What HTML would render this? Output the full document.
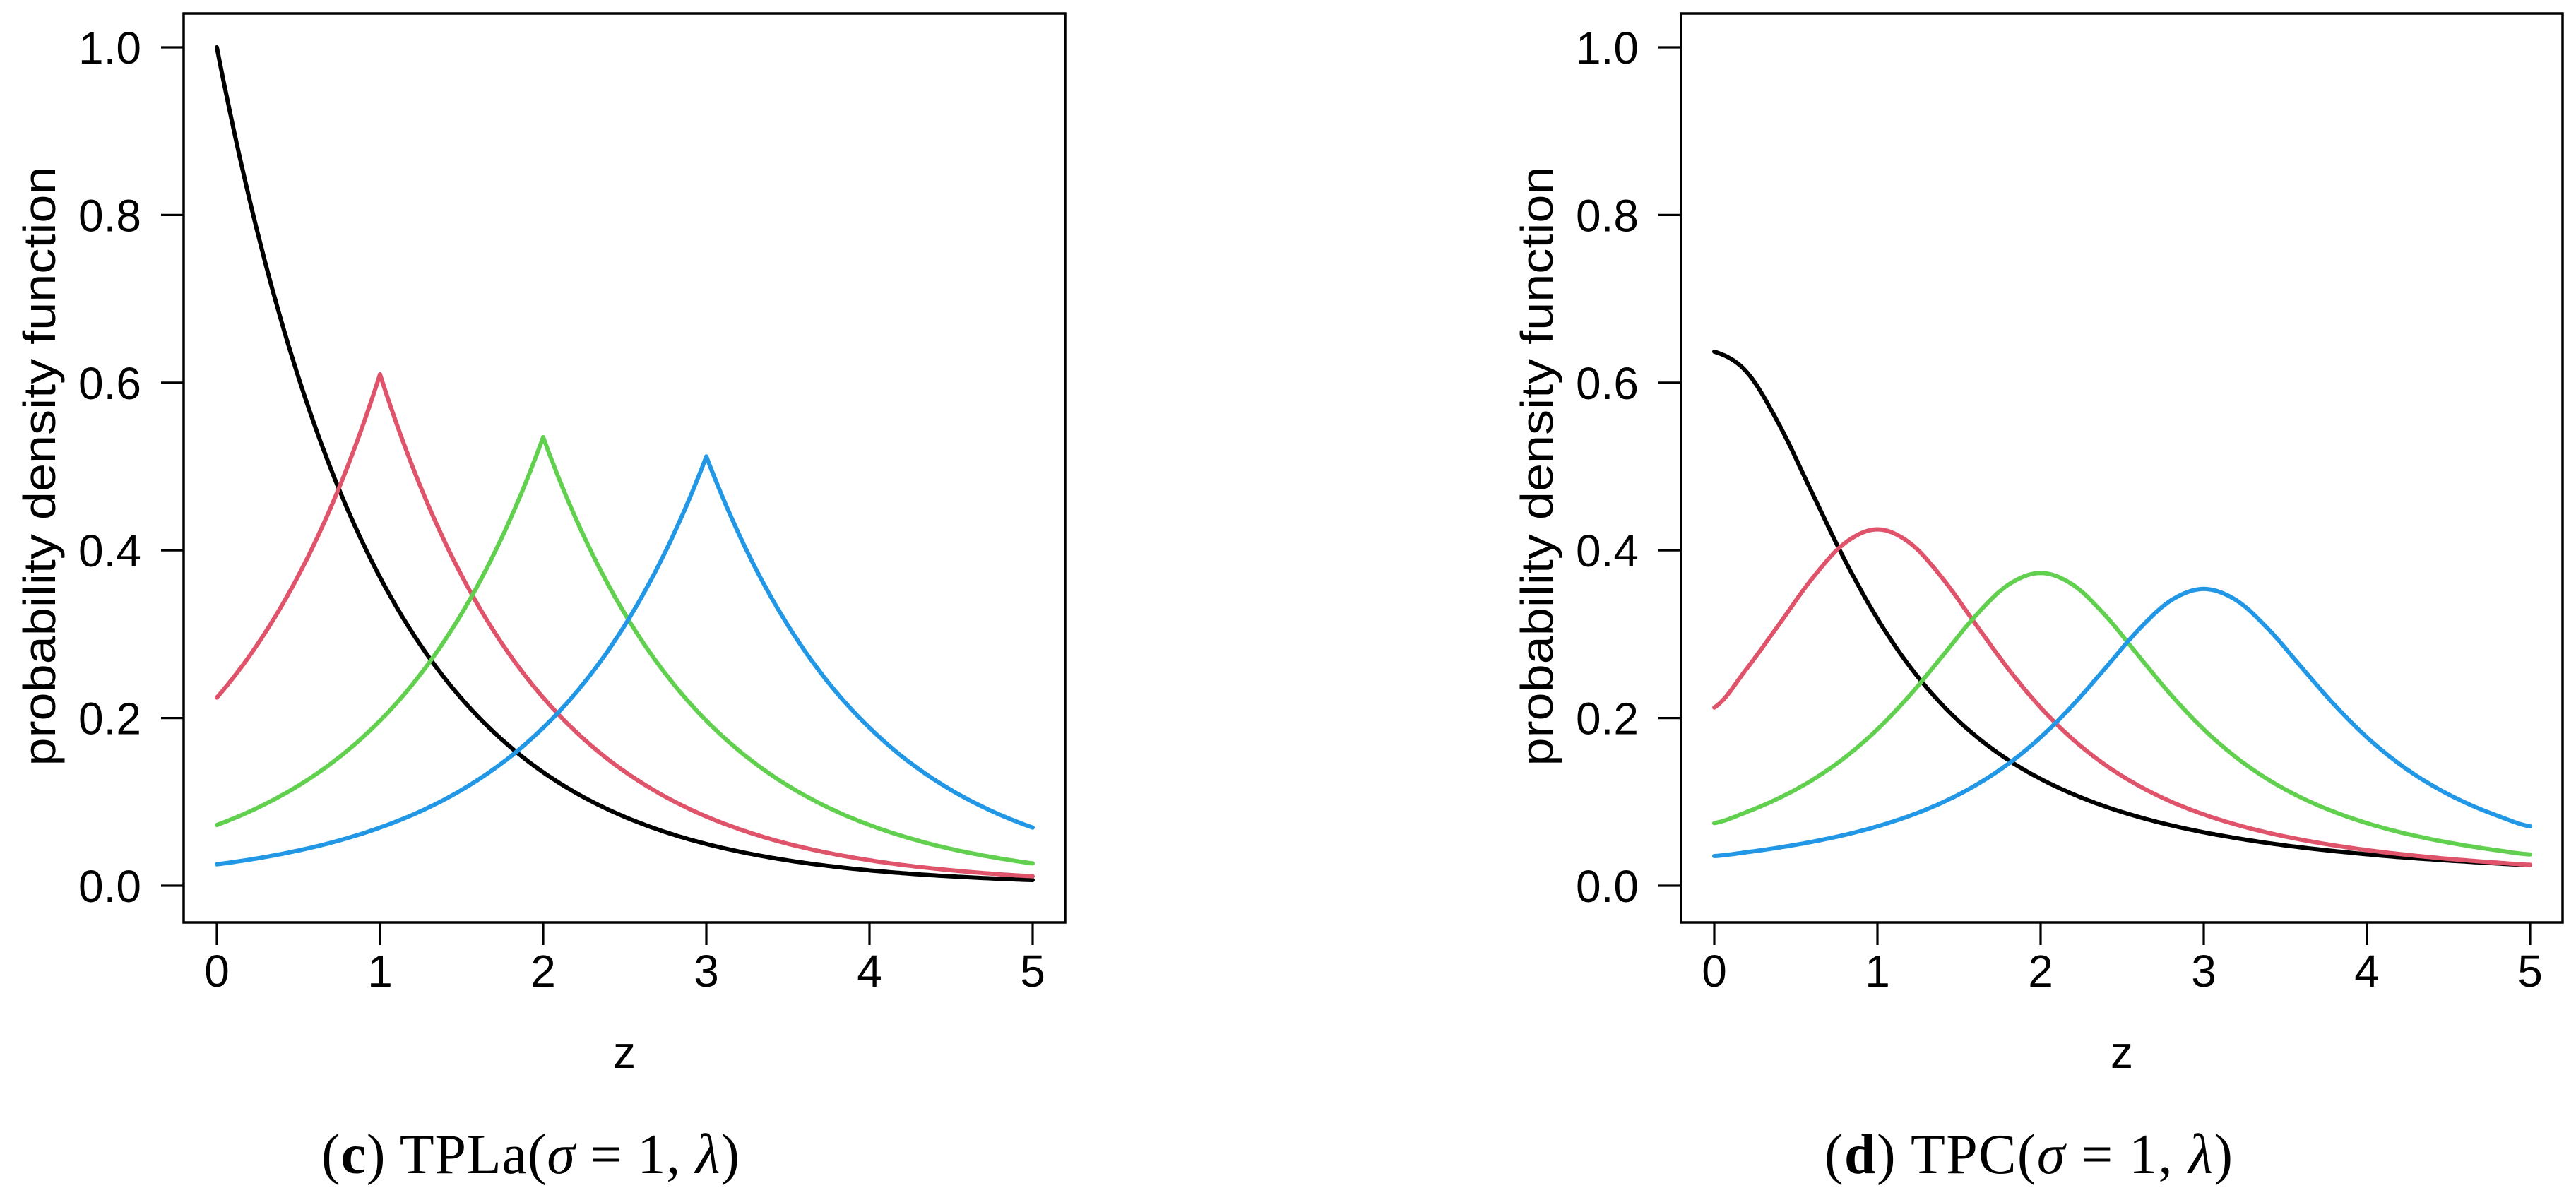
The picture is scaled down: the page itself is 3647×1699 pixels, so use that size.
<!DOCTYPE html>
<html><head><meta charset="utf-8"><style>
html,body{margin:0;padding:0;background:#fff;}
svg{display:block;}
</style></head><body>
<svg id="fig" width="3647" height="1699" viewBox="0 0 3647 1699" xmlns="http://www.w3.org/2000/svg">
<rect width="3647" height="1699" fill="#fff"/>
</svg>
<script>
const zValues = [0,0.2,0.4,0.6,0.8,1,1.2,1.4,1.6,1.8,2,2.2,2.4,2.6,2.8,3,3.2,3.4,3.6,3.8,4,4.2,4.4,4.6,4.8,5];
const xTicks = [0,1,2,3,4,5];
const yTicks = [0,0.2,0.4,0.6,0.8,1.0];
const yTickLabels = ["0.0","0.2","0.4","0.6","0.8","1.0"];
const tplaBlack = [1,.8187,.6703,.5488,.4493,.3679,.3012,.2466,.2019,.1653,.1353,.1108,.0907,.0743,.0608,.0498,.0408,.0334,.0273,.0224,.0183,.0150,.0123,.0101,.0082,.0067];
const tplaRed = [.2244,.2741,.3348,.4089,.4994,.61,.4994,.4089,.3348,.2741,.2244,.1837,.1504,.1232,.1008,.0825,.0676,.0553,.0453,.0371,.0304,.0248,.0204,.0167,.0136,.0112];
const tplaGreen = [.0724,.0884,.1080,.1319,.1612,.1968,.2404,.2936,.3586,.4380,.535,.4380,.3586,.2936,.2404,.1968,.1612,.1319,.1080,.0884,.0724,.0593,.0485,.0397,.0325,.0266];
const tplaBlue = [.0255,.0311,.0380,.0464,.0567,.0693,.0846,.1033,.1262,.1541,.1884,.2300,.2810,.3432,.4192,.512,.4192,.3432,.2810,.2300,.1884,.1541,.1262,.1033,.0846,.0693];
const tpcBlack = [.637,.6125,.5491,.4684,.3884,.3185,.2610,.2152,.1789,.1502,.1274,.1091,.0942,.0821,.0720,.0637,.0567,.0507,.0456,.0413,.0375,.0341,.0313,.0288,.0265,.0245];
const tpcRed = [.2125,.2592,.3125,.3664,.4086,.425,.4086,.3664,.3125,.2592,.2125,.1742,.1436,.1194,.1002,.0850,.0728,.0629,.0548,.0481,.0425,.0378,.0338,.0304,.0275,.0250];
const tpcGreen = [.0746,.0880,.1048,.1260,.1529,.1865,.2275,.2743,.3216,.3587,.373,.3587,.3216,.2743,.2275,.1865,.1529,.1260,.1048,.0880,.0746,.0639,.0552,.0481,.0422,.0373];
const tpcBlue = [.0354,.0400,.0456,.0524,.0606,.0708,.0835,.0994,.1196,.1451,.1770,.2159,.2603,.3052,.3404,.354,.3404,.3052,.2603,.2159,.1770,.1451,.1196,.0994,.0835,.0708];

const NS = "http://www.w3.org/2000/svg";
const svg = document.getElementById('fig');
function mk(tag, attrs, parent){
  const e = document.createElementNS(NS, tag);
  for (const k in attrs) e.setAttribute(k, attrs[k]);
  (parent||svg).appendChild(e);
  return e;
}
const colors = {black:"#000000", red:"#DF536B", green:"#61D04F", blue:"#2297E6"};

// densify: 'exp' = geometric interpolation between samples (keeps cusps), 'smooth' = Catmull-Rom
function densify(xs, ys, mode){
  const out = [];
  const n = xs.length, sub = 10;
  for (let i = 0; i < n - 1; i++) {
    for (let k = 0; k < sub; k++) {
      const t = k / sub;
      const x = xs[i] + (xs[i+1] - xs[i]) * t;
      let y;
      if (mode === 'exp') {
        y = ys[i] * Math.pow(ys[i+1] / ys[i], t);
      } else {
        const p0 = ys[Math.max(i-1,0)], p1 = ys[i], p2 = ys[i+1], p3 = ys[Math.min(i+2,n-1)];
        const t2 = t*t, t3 = t2*t;
        y = 0.5*((2*p1) + (-p0+p2)*t + (2*p0-5*p1+4*p2-p3)*t2 + (-p0+3*p1-3*p2+p3)*t3);
      }
      out.push([x, y]);
    }
  }
  out.push([xs[n-1], ys[n-1]]);
  return out;
}

function panel(off, name, series, mode, captionParts, capLeft, capWidth){
  const g = mk('g', {});
  
  
  const X = v => off + 307 + v * 231;
  const Y = v => 1254 - v * 1187;
  series.forEach(s => {
    const pts = densify(zValues, s.vals, mode);
    let d = '';
    pts.forEach((p,i) => { d += (i?'L':'M') + X(p[0]).toFixed(1) + ' ' + Y(p[1]).toFixed(1); });
    const p = mk('path', {d:d, fill:'none', stroke:s.color, 'stroke-width':6, 'stroke-linejoin':'round', 'stroke-linecap':'round'}, g);
    
    
  });
  const box = mk('rect', {x:off+260, y:19, width:1248, height:1287, fill:'none', stroke:'#000', 'stroke-width':3.5}, g);
  
  
  xTicks.forEach(t => {
    const l = mk('line', {x1:X(t), x2:X(t), y1:1306, y2:1338, stroke:'#000', 'stroke-width':3.2}, g);
    
    
    const tx = mk('text', {x:X(t), y:1397, 'text-anchor':'middle', 'font-family':'Liberation Sans, sans-serif', 'font-size':64}, g);
    
    
    tx.textContent = String(t);
  });
  yTicks.forEach((t,i) => {
    const l = mk('line', {x1:off+228, x2:off+260, y1:Y(t), y2:Y(t), stroke:'#000', 'stroke-width':3.2}, g);
    
    
    const tx = mk('text', {x:off+200, y:Y(t)+23, 'text-anchor':'end', 'font-family':'Liberation Sans, sans-serif', 'font-size':64}, g);
    
    
    tx.textContent = yTickLabels[i];
  });
  const xt = mk('text', {x:off+884, y:1512, 'text-anchor':'middle', 'font-family':'Liberation Sans, sans-serif', 'font-size':64}, g);
  
  
  xt.textContent = 'z';
  const yt = mk('text', {x:0, y:0, 'text-anchor':'middle', 'font-family':'Liberation Sans, sans-serif', 'font-size':64, transform:'translate('+(off+78)+',660) rotate(-90)', textLength:849, lengthAdjust:'spacingAndGlyphs'}, g);
  
  
  yt.textContent = 'probability density function';
  const cap = mk('text', {x:capLeft, y:1661, 'font-family':'Liberation Serif, serif', 'font-size':80, textLength:capWidth, lengthAdjust:'spacing'}, g);
  
  
  captionParts.forEach(p => {
    const ts = mk('tspan', {}, cap);
    if (p.b) ts.setAttribute('font-weight','bold');
    if (p.i) ts.setAttribute('font-style','italic');
    ts.textContent = p.t;
  });
}

panel(0, 'tpla-panel', [
  {name:'tpla-lambda0-line', color:colors.black, vals:tplaBlack},
  {name:'tpla-lambda1-line', color:colors.red, vals:tplaRed},
  {name:'tpla-lambda2-line', color:colors.green, vals:tplaGreen},
  {name:'tpla-lambda3-line', color:colors.blue, vals:tplaBlue}
], 'exp', [{t:'('},{t:'c',b:1},{t:') TPLa('},{t:'σ',i:1},{t:' = 1, '},{t:'λ',i:1},{t:')'}], 455, 592);

panel(2120, 'tpc-panel', [
  {name:'tpc-lambda0-line', color:colors.black, vals:tpcBlack},
  {name:'tpc-lambda1-line', color:colors.red, vals:tpcRed},
  {name:'tpc-lambda2-line', color:colors.green, vals:tpcGreen},
  {name:'tpc-lambda3-line', color:colors.blue, vals:tpcBlue}
], 'smooth', [{t:'('},{t:'d',b:1},{t:') TPC('},{t:'σ',i:1},{t:' = 1, '},{t:'λ',i:1},{t:')'}], 2583, 578);
</script>
</body></html>
